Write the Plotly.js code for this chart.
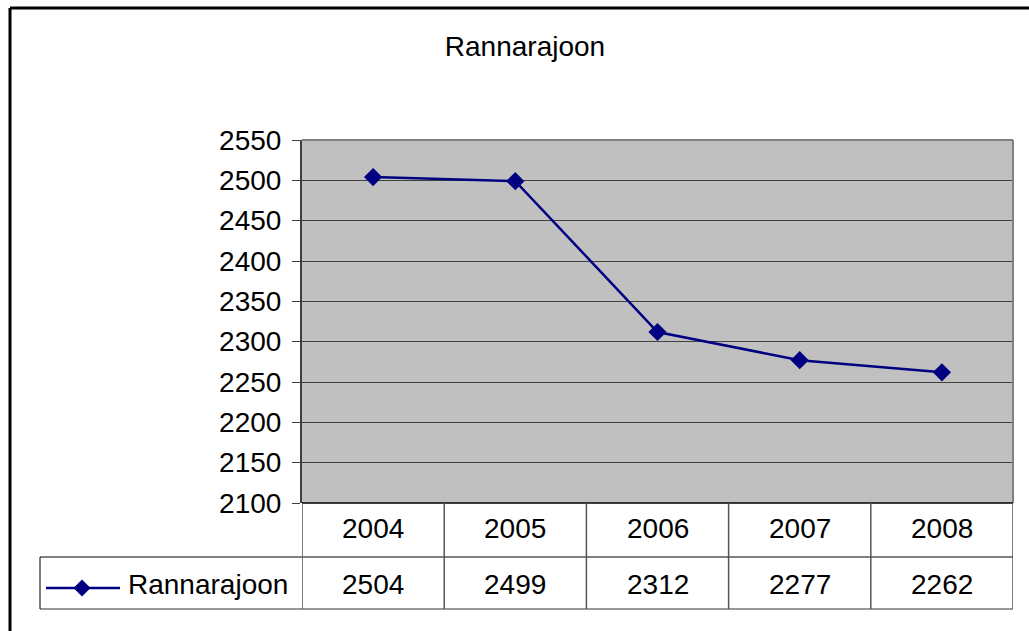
<!DOCTYPE html>
<html>
<head>
<meta charset="utf-8">
<script src="https://cdn.plot.ly/plotly-3.0.1.min.js"></script>
<style>html,body{margin:0;padding:0;background:#fff;}#chart{width:1029px;height:631px;}</style>
</head>
<body>
<div id="chart"></div>
<script>
// ---- data ----
const chartTitle = 'Rannarajoon';
const seriesName = 'Rannarajoon';
const years = ['2004', '2005', '2006', '2007', '2008'];
const values = [2504, 2499, 2312, 2277, 2262];
const yMin = 2100, yMax = 2550, yStep = 50;

// ---- geometry helpers (pixel -> paper) ----
const W = 1029, H = 631;
const M = {l: 302, r: 16, t: 140, b: 128};
const PW = W - M.l - M.r, PH = H - M.t - M.b;
const px = p => (p - M.l) / PW;
const py = p => (H - M.b - p) / PH;

const FONT = 'Liberation Sans, Arial, Helvetica, sans-serif';
const NAVY = '#000080';

const trace = {
  type: 'scatter', mode: 'lines+markers',
  x: years, y: values, name: seriesName,
  line: {color: NAVY, width: 2.5},
  marker: {symbol: 'diamond', size: 14, color: NAVY, line: {width: 0}},
  cliponaxis: false, hoverinfo: 'x+y'
};

const shapes = [];
const annotations = [];
function line(x0, y0, x1, y1, color, width, xref, yref) {
  shapes.push({type: 'line', xref: xref || 'paper', yref: yref || 'paper',
    x0, y0, x1, y1, line: {color, width}, layer: 'above'});
}
// plot area borders
line(0, 1, 1, 1, '#808080', 2);
line(1, 0, 1, 1, '#808080', 2);
// table
const rowTop = 503, rowMid = 557, rowBot = 609;
line(0, py(rowTop), 1, py(rowTop), '#000000', 1.5);
line(px(40), py(rowMid), 1, py(rowMid), '#000000', 1);
line(px(40), py(rowBot), 1, py(rowBot), '#333333', 1.2);
line(px(40), py(rowMid), px(40), py(rowBot), '#000000', 1);
for (let i = 0; i <= years.length; i++) {
  line(i - 0.5, py(rowTop), i - 0.5, py(rowBot), '#555555', 1.5, 'x', 'paper');
}
years.forEach((yr, i) => {
  annotations.push({xref: 'x', yref: 'paper', x: i, y: py(528),
    text: yr, showarrow: false, xanchor: 'center', yanchor: 'middle',
    font: {family: FONT, size: 28, color: '#000'}});
  annotations.push({xref: 'x', yref: 'paper', x: i, y: py(584),
    text: String(values[i]), showarrow: false, xanchor: 'center', yanchor: 'middle',
    font: {family: FONT, size: 28, color: '#000'}});
});
// legend key in table
const keyY = 588;
line(px(46), py(keyY), px(120), py(keyY), NAVY, 2.5);
const dx = 8.5, dy = 8.5, cx = 82;
shapes.push({type: 'path', xref: 'paper', yref: 'paper', layer: 'above',
  path: `M ${px(cx - dx)} ${py(keyY)} L ${px(cx)} ${py(keyY - dy)} L ${px(cx + dx)} ${py(keyY)} L ${px(cx)} ${py(keyY + dy)} Z`,
  fillcolor: NAVY, line: {width: 0}});
annotations.push({xref: 'paper', yref: 'paper', x: px(126), y: py(584),
  text: seriesName, showarrow: false, xanchor: 'left', yanchor: 'middle',
  font: {family: FONT, size: 28, color: '#000'}});
// outer chart border (left and top visible)
line(px(10), py(8), px(10), py(H + 20), '#000000', 3);
line(px(10), py(8), px(W + 20), py(8), '#000000', 3);

const layout = {
  width: W, height: H,
  margin: M,
  paper_bgcolor: '#ffffff', plot_bgcolor: '#C0C0C0',
  showlegend: false,
  title: {text: chartTitle, x: 525 / W, xref: 'container', xanchor: 'center',
    y: 1 - 46 / H, yref: 'container', yanchor: 'middle',
    font: {family: FONT, size: 28, color: '#000'}},
  xaxis: {type: 'category', range: [-0.5, years.length - 0.5], showticklabels: false,
    showgrid: false, zeroline: false, showline: false, ticks: '', fixedrange: true},
  yaxis: {range: [yMin, yMax], tick0: yMin, dtick: yStep, showgrid: true,
    gridcolor: '#404040', gridwidth: 1, zeroline: false,
    ticks: 'outside', ticklen: 8, tickwidth: 1, tickcolor: '#404040',
    showline: true, linecolor: '#404040', linewidth: 2,
    ticklabelstandoff: 5,
    tickfont: {family: FONT, size: 28, color: '#000'}, fixedrange: true},
  shapes, annotations
};

Plotly.newPlot('chart', [trace], layout, {displayModeBar: false, staticPlot: true});
</script>
</body>
</html>
